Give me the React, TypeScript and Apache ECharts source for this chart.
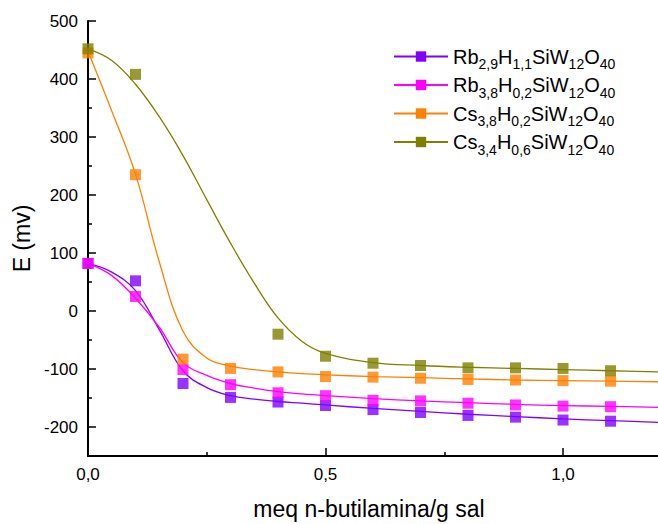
import React, { useEffect, useRef } from 'react';
import * as echarts from 'echarts';

// ---- measured points ----
const xPoints = [0, 0.1, 0.2, 0.3, 0.4, 0.5, 0.6, 0.7, 0.8, 0.9, 1.0, 1.1];
const rb29Points = [82, 52, -125, -149, -157, -163, -170, -175, -180, -183, -188, -190];
const rb38Points = [82, 25, -101, -127, -141, -146, -154, -155, -159, -162, -164, -165];
const cs38Points = [445, 235, -83, -99, -105, -113, -114, -116, -118, -119, -120, -121];
const cs34X = [0, 0.1, 0.4, 0.5, 0.6, 0.7, 0.8, 0.9, 1.0, 1.1];
const cs34Points = [452, 408, -40, -78, -90, -94, -98, -98, -99, -103];

// ---- fitted curves ----
const curveX = [0, 0.05, 0.1, 0.15, 0.2, 0.25, 0.3, 0.35, 0.4, 0.45, 0.5, 0.6, 0.7, 0.8, 0.9, 1.0, 1.1, 1.2];
const rb29Curve = [82, 67, 35, -32, -103, -132, -146, -152, -156, -159, -162, -168, -173, -178, -182, -186, -189, -192];
const rb38Curve = [82, 61, 22, -28, -89, -111, -125, -133, -139, -143, -146, -151, -155, -158, -161, -163, -164.5, -166];
const cs38Curve = [448, 345, 236, 85, -35, -81, -95, -101, -105, -108, -110, -113, -115, -117, -119, -120, -121, -122];
const cs34Curve = [452, 432, 391, 335, 268, 192, 117, 48, -12, -52, -73, -89, -94, -97, -99, -101, -103, -105];

// ---- labels / ticks ----
const seriesNames = ['Rb2,9H1,1SiW12O40', 'Rb3,8H0,2SiW12O40', 'Cs3,8H0,2SiW12O40', 'Cs3,4H0,6SiW12O40'];
const formulaParts = [
  [['Rb', '2,9'], ['H', '1,1'], ['SiW', '12'], ['O', '40']],
  [['Rb', '3,8'], ['H', '0,2'], ['SiW', '12'], ['O', '40']],
  [['Cs', '3,8'], ['H', '0,2'], ['SiW', '12'], ['O', '40']],
  [['Cs', '3,4'], ['H', '0,6'], ['SiW', '12'], ['O', '40']],
];
const colors = ['#8000ff', '#ff00ff', '#ff8000', '#808000'];
const xTicks = [0, 0.5, 1.0];
const xMinorTicks = [0.25, 0.75];
const yTicks = [-200, -100, 0, 100, 200, 300, 400, 500];
const yMinorTicks = [-150, -50, 50, 150, 250, 350, 450];
const xName = 'meq n-butilamina/g sal';
const yName = 'E (mv)';

const FONT = '"Liberation Sans", Arial, Helvetica, sans-serif';

const zip = (xs: number[], ys: number[]) => xs.map((x, i) => [x, ys[i]]);

export default function App() {
  const ref = useRef<HTMLDivElement>(null);
  useEffect(() => {
    document.body.style.margin = '0';
    if (!ref.current) return;
    const chart = echarts.init(ref.current, null, { renderer: 'svg' });
    const curves = [rb29Curve, rb38Curve, cs38Curve, cs34Curve];
    const pts = [
      zip(xPoints, rb29Points),
      zip(xPoints, rb38Points),
      zip(xPoints, cs38Points),
      zip(cs34X, cs34Points),
    ];
    const lineSeries = seriesNames.map((name, i) => ({
      type: 'line',
      name,
      data: zip(curveX, curves[i]),
      showSymbol: false,
      symbol: 'rect',
      symbolSize: 11,
      smooth: 0.4,
      lineStyle: { width: 1.3, color: colors[i] },
      itemStyle: { color: colors[i] },
      z: 2,
    }));
    const pointSeries = seriesNames.map((name, i) => ({
      type: 'scatter',
      name: name + ' data',
      data: pts[i],
      symbol: 'rect',
      symbolSize: 11,
      itemStyle: { color: colors[i] },
      z: 3,
    }));
    const axisCommon = {
      type: 'value',
      splitLine: { show: false },
    };
    chart.setOption({
      animation: false,
      grid: { left: 88, right: -8, top: 21, bottom: 68 },
      legend: {
        data: seriesNames,
        left: 393,
        top: 42,
        orient: 'vertical',
        padding: 0,
        itemGap: -0.5,
        itemWidth: 54,
        itemHeight: 13,
        formatter: (name: string) => {
          const idx = seriesNames.indexOf(name);
          return formulaParts[idx].map(([a, b]) => `{n|${a}}{s|${b}}`).join('');
        },
        textStyle: {
          color: '#000',
          fontFamily: FONT,
          rich: {
            n: { fontSize: 20, lineHeight: 30, fontFamily: FONT, color: '#000' },
            s: { fontSize: 14, lineHeight: 15, padding: [15, 0, 0, 0], fontFamily: FONT, color: '#000' },
          },
        },
      },
      xAxis: [
        {
          ...axisCommon,
          min: 0,
          max: 1.2,
          position: 'bottom',
          axisLine: { onZero: false, lineStyle: { color: '#000', width: 2 } },
          axisTick: { inside: true, length: 8, customValues: xTicks, lineStyle: { color: '#000', width: 1.5 } },
          axisLabel: {
            customValues: xTicks,
            formatter: (v: number) => v.toFixed(1).replace('.', ','),
            fontSize: 17,
            color: '#000',
            fontFamily: FONT,
            margin: 10,
          },
        },
        {
          ...axisCommon,
          min: 0,
          max: 1.2,
          position: 'bottom',
          axisLine: { show: false, onZero: false },
          axisTick: { inside: true, length: 4, customValues: xMinorTicks, lineStyle: { color: '#000', width: 1.5 } },
          axisLabel: { show: false },
        },
      ],
      yAxis: [
        {
          ...axisCommon,
          min: -250,
          max: 500,
          position: 'left',
          name: yName,
          nameLocation: 'middle',
          nameGap: 54,
          nameTextStyle: { fontSize: 23, color: '#000', fontFamily: FONT },
          axisLine: { onZero: false, lineStyle: { color: '#000', width: 2 } },
          axisTick: { inside: true, length: 8, customValues: yTicks, lineStyle: { color: '#000', width: 1.5 } },
          axisLabel: { customValues: yTicks, fontSize: 17, color: '#000', fontFamily: FONT, margin: 10 },
        },
        {
          ...axisCommon,
          min: -250,
          max: 500,
          position: 'left',
          axisLine: { show: false, onZero: false },
          axisTick: { inside: true, length: 4, customValues: yMinorTicks, lineStyle: { color: '#000', width: 1.5 } },
          axisLabel: { show: false },
        },
      ],
      graphic: [
        {
          type: 'text',
          x: 369,
          y: 509,
          style: {
            text: xName,
            fontSize: 23,
            fontFamily: FONT,
            fill: '#000',
            align: 'center',
            verticalAlign: 'middle',
          },
        },
      ],
      series: [...lineSeries, ...pointSeries],
    });
    return () => chart.dispose();
  }, []);
  return <div ref={ref} style={{ width: 658, height: 524 }} />;
}
